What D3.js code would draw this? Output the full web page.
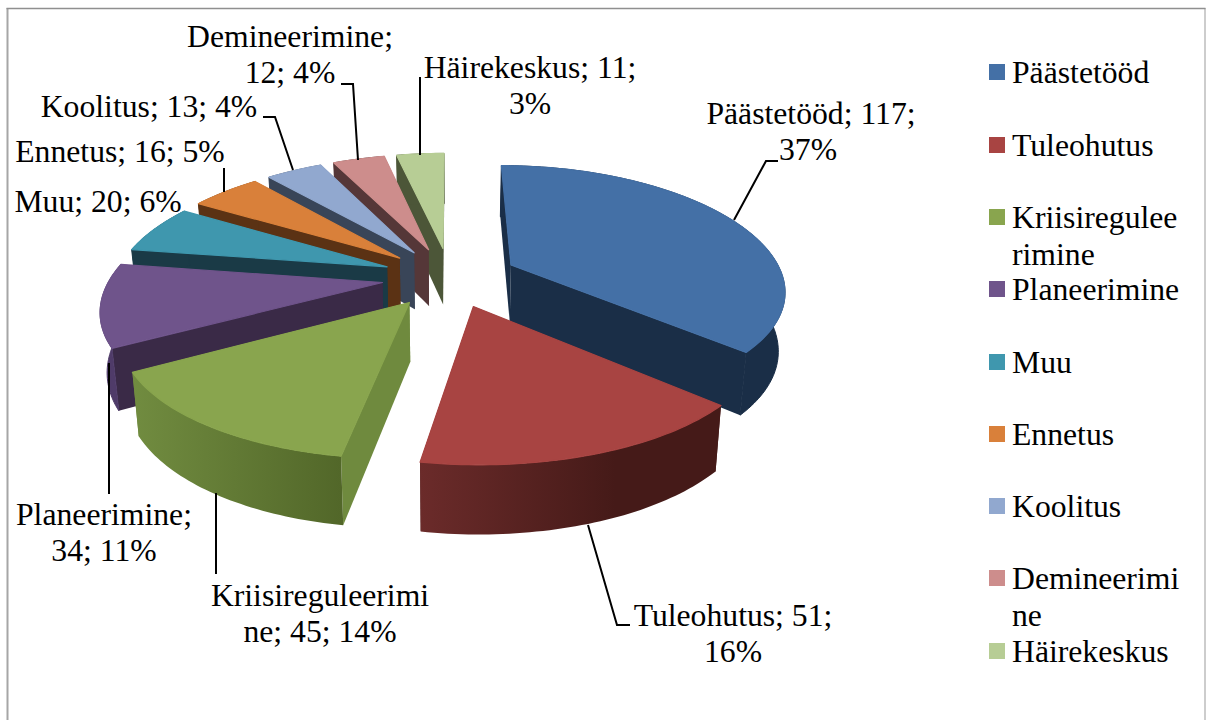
<!DOCTYPE html>
<html>
<head>
<meta charset="utf-8">
<script src="https://cdnjs.cloudflare.com/ajax/libs/d3/7.8.5/d3.min.js"></script>
<style>
  html, body { margin: 0; padding: 0; background: #fff; }
  text { font-family: "Liberation Serif", serif; font-size: 31.7px; fill: #000; }
</style>
</head>
<body>
<div id="chart"></div>
<script>
var categories = ["Päästetööd", "Tuleohutus", "Kriisireguleerimine", "Planeerimine", "Muu", "Ennetus", "Koolitus", "Demineerimine", "Häirekeskus"];
var counts = [117, 51, 45, 34, 20, 16, 13, 12, 11];
var shares = ["37%", "16%", "14%", "11%", "6%", "5%", "4%", "4%", "3%"];

var topColors = ["#4470a6", "#a84442", "#89a54e", "#6f548b", "#3f97ae", "#d9803a", "#91a8cf", "#cd8d8c", "#b7cd95"];
var wallColors = ["#1a2e47", "#4a1b19", "#6f8a3e", "#3a2a47", "#1a3a46", "#5b3214", "#394558", "#553738", "#4c5638"];
var rimColors = [["#1a2e47", "#1a2e47"], ["#6b2b2a", "#451a18"], ["#718c40", "#526729"], ["#4f3b69", "#4f3b69"], ["#1a3a46", "#1a3a46"], ["#5b3214", "#5b3214"], ["#394558", "#394558"], ["#553738", "#553738"], ["#4c5638", "#4c5638"]];

// text lines as wrapped in the chart
var labelLines = [
  ["Päästetööd; 117;", "37%"],
  ["Tuleohutus; 51;", "16%"],
  ["Kriisireguleerimi", "ne; 45; 14%"],
  ["Planeerimine;", "34; 11%"],
  ["Muu; 20; 6%"],
  ["Ennetus; 16; 5%"],
  ["Koolitus; 13; 4%"],
  ["Demineerimine;", "12; 4%"],
  ["Häirekeskus; 11;", "3%"]
];
var legendLines = [["Päästetööd"], ["Tuleohutus"], ["Kriisiregulee", "rimine"], ["Planeerimine"], ["Muu"], ["Ennetus"], ["Koolitus"], ["Demineerimi", "ne"], ["Häirekeskus"]];

// layout only, x is line centre, y first baseline
var labelPos = [[811, 124], [733, 626], [320, 606], [104, 525], [98, 212], [120, 162], [149, 117], [290, 47], [530, 78]];
var leaders = [
  [[734, 220], [766, 161], [778, 161]],
  [[588, 525], [617, 625], [630, 625]],
  [[216, 493], [216, 574]],
  [[109, 363], [109, 494]],
  null,
  [[224, 168], [224, 192]],
  [[293, 170], [275, 117], [263, 117]],
  [[358, 160], [353, 84], [341, 84]],
  [[420, 155], [420, 77]]
];
var legendY = [64, 137, 209, 281, 354, 426, 498, 570, 643];

var width = 1206, height = 720;
var explode = 0.25, perspX = 0.19, perspY = 0.17, wallDrop = 58, baseShrink = 0.98;

var svg = d3.select("#chart").append("svg")
  .attr("width", width)
  .attr("height", height)
  .style("display", "block");

// frame
svg.append("line").attr("x1", 7.5).attr("x2", 7.5).attr("y1", 8).attr("y2", 720)
  .attr("stroke", "#a6a6a6").attr("stroke-width", 2);
svg.append("line").attr("x1", 1205).attr("x2", 1205).attr("y1", 8).attr("y2", 720)
  .attr("stroke", "#bdbdbd").attr("stroke-width", 1.5);
svg.append("line").attr("x1", 6.5).attr("x2", 1205.5).attr("y1", 8.5).attr("y2", 8.5)
  .attr("stroke", "#8f8f8f").attr("stroke-width", 1.5);

var pie = d3.pie().sort(null).value(function (d) { return d; });
var arcs = pie(counts);

// unit plane to screen
var xScale = d3.scaleLinear().domain([-1, 1]).range([450 - 272, 450 + 272]);
var yScale = d3.scaleLinear().domain([-1, 1]).range([277 + 120, 277 - 120]);

function project(p, lower) {
  var sX = 1 / (1 + perspX * p[1]);
  var sY = 1 / (1 + perspY * p[1]);
  var k = lower ? baseShrink : 1;
  var sx = xScale(0) + (xScale(p[0]) - xScale(0)) * sX * k;
  var sy = yScale(0) + ((yScale(p[1]) - yScale(0)) * k + (lower ? wallDrop : 0)) * sY;
  return [sx, sy];
}

var line = d3.line();

arcs.forEach(function (a, i) {
  a.mid = (a.startAngle + a.endAngle) / 2;
  a.apex = [explode * Math.sin(a.mid), explode * Math.cos(a.mid)];
  var n = Math.ceil((a.endAngle - a.startAngle) / 0.02);
  a.rim = d3.range(n + 1).map(function (j) {
    var t = a.startAngle + (a.endAngle - a.startAngle) * j / n;
    return [a.apex[0] + Math.sin(t), a.apex[1] + Math.cos(t)];
  });
});

var defs = svg.append("defs");
arcs.forEach(function (a, i) {
  var xs = a.rim.map(function (p) { return project(p)[0]; });
  var g = defs.append("linearGradient")
    .attr("id", "rim" + i)
    .attr("gradientUnits", "userSpaceOnUse")
    .attr("x1", d3.min(xs)).attr("x2", d3.max(xs))
    .attr("y1", 0).attr("y2", 0);
  g.append("stop").attr("offset", 0).attr("stop-color", rimColors[i][0]);
  g.append("stop").attr("offset", i == 1 ? 0.65 : 1).attr("stop-color", rimColors[i][1]);
  if (i == 1) g.append("stop").attr("offset", 1).attr("stop-color", rimColors[i][1]);
});

function wall(a, p) {
  return [project(a.apex), project(p), project(p, true), project(a.apex, true)];
}

// back slices first, red last because it lies over the blue wall
var drawOrder = [8, 7, 6, 5, 4, 3, 2, 0, 1];
var slices = svg.selectAll("g.slice")
  .data(drawOrder.map(function (i) { return arcs[i]; }))
  .enter()
  .append("g")
  .attr("class", "slice");

slices.each(function (a) {
  var g = d3.select(this);
  var first = a.rim[0], last = a.rim[a.rim.length - 1];
  var upper = a.rim.map(function (p) { return project(p); });
  var lower = a.rim.map(function (p) { return project(p, true); }).reverse();
  var flat = rimColors[a.index][0] == rimColors[a.index][1];
  g.append("path").attr("d", line(wall(a, last)) + "Z")
    .attr("fill", wallColors[a.index]);
  g.append("path").attr("d", line(wall(a, first)) + "Z")
    .attr("fill", wallColors[a.index]);
  // solid fill and a thin stroke where wall and rim share a colour, so no seam shows
  g.append("path").attr("d", line(upper.concat(lower)) + "Z")
    .attr("fill", flat ? rimColors[a.index][0] : "url(#rim" + a.index + ")")
    .attr("stroke", flat ? rimColors[a.index][0] : "none")
    .attr("stroke-width", 1);
  // top stroke covers the rim stroke along the curved edge
  g.append("path")
    .attr("d", line([project(a.apex)].concat(upper)) + "Z")
    .attr("fill", topColors[a.index])
    .attr("stroke", topColors[a.index])
    .attr("stroke-width", 1.2)
    .attr("stroke-linejoin", "round");
});

// leader lines
svg.selectAll("path.leader")
  .data(leaders.filter(function (d) { return d; }))
  .enter()
  .append("path")
  .attr("class", "leader")
  .attr("d", function (d) { return line(d); })
  .attr("fill", "none")
  .attr("stroke", "#000")
  .attr("stroke-width", 2);

// data labels
var lineStep = 36;
labelLines.forEach(function (lines, i) {
  lines.forEach(function (t, j) {
    svg.append("text")
      .attr("x", labelPos[i][0] - (i == 0 && j == 1 ? 3 : 0))
      .attr("y", labelPos[i][1] + j * lineStep)
      .attr("text-anchor", "middle")
      .text(t);
  });
});

// legend
var legendRow = svg.selectAll("g.legend")
  .data(categories)
  .enter()
  .append("g")
  .attr("class", "legend");
legendRow.append("rect")
  .attr("x", 989)
  .attr("y", function (d, i) { return legendY[i]; })
  .attr("width", 16)
  .attr("height", 16)
  .attr("fill", function (d, i) { return topColors[i]; });
legendRow.each(function (d, i) {
  legendLines[i].forEach(function (t, j) {
    d3.select(this).append("text")
      .attr("x", 1012)
      .attr("y", legendY[i] + 19 + j * 37)
      .text(t);
  }, this);
});
</script>
</body>
</html>
